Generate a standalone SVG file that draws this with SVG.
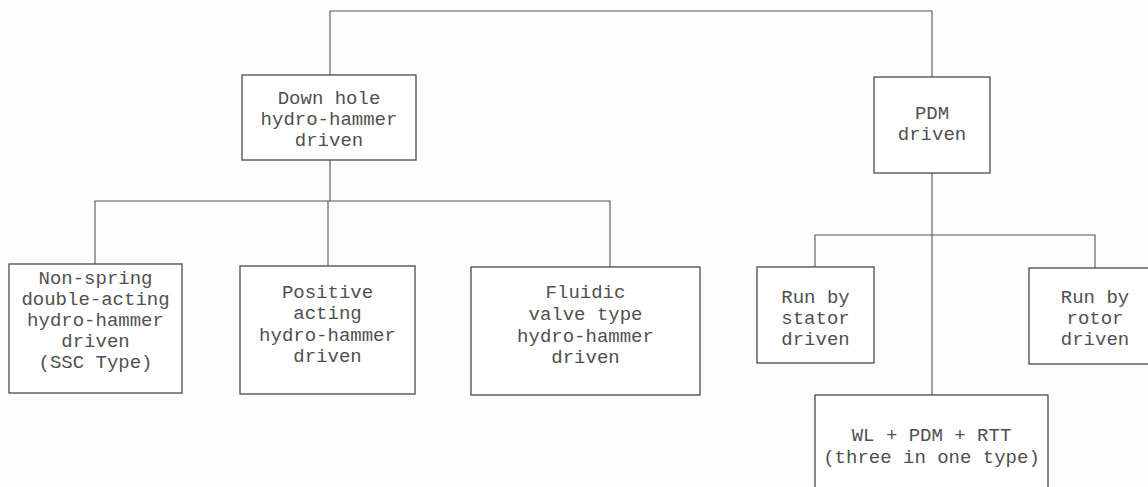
<svg xmlns="http://www.w3.org/2000/svg" width="1148" height="487" viewBox="0 0 1148 487">
<style>
.box{fill:#fff;stroke:#4a4a4a;stroke-width:1.3}
.ln{fill:none;stroke:#555;stroke-width:1.1}
text{font-family:"Liberation Mono","Courier New",monospace;font-size:19px;fill:#505050;text-anchor:middle}
</style>
<rect width="1148" height="487" fill="#fdfdfd"/>
<g id="connectors">
<path class="ln" d="M330,75 V11 H932 V77"/>
<path class="ln" d="M330,160 V201 M95,264 V201 H610 V267 M328,201 V266"/>
<path class="ln" d="M932,173 V395 M815,267 V235 H1095 V268"/>
</g>
<g id="n-downhole">
<rect class="box" x="242" y="75" width="174" height="85"/>
<text x="329" y="104">Down hole</text>
<text x="329" y="125">hydro-hammer</text>
<text x="329" y="146">driven</text>
</g>
<g id="n-pdm">
<rect class="box" x="874" y="77" width="116" height="96"/>
<text x="932" y="119">PDM</text>
<text x="932" y="140">driven</text>
</g>
<g id="n-nonspring">
<rect class="box" x="9" y="264" width="173" height="129"/>
<text x="95.5" y="284">Non-spring</text>
<text x="95.5" y="305">double-acting</text>
<text x="95.5" y="326">hydro-hammer</text>
<text x="95.5" y="347">driven</text>
<text x="95.5" y="368">(SSC Type)</text>
</g>
<g id="n-positive">
<rect class="box" x="240" y="266" width="175" height="128"/>
<text x="327.5" y="298">Positive</text>
<text x="327.5" y="319">acting</text>
<text x="327.5" y="341">hydro-hammer</text>
<text x="327.5" y="362">driven</text>
</g>
<g id="n-fluidic">
<rect class="box" x="471" y="267" width="229" height="128"/>
<text x="585.5" y="298">Fluidic</text>
<text x="585.5" y="320">valve type</text>
<text x="585.5" y="342">hydro-hammer</text>
<text x="585.5" y="363">driven</text>
</g>
<g id="n-stator">
<rect class="box" x="757" y="267" width="117" height="96"/>
<text x="815.5" y="303">Run by</text>
<text x="815.5" y="324">stator</text>
<text x="815.5" y="345">driven</text>
</g>
<g id="n-rotor">
<rect class="box" x="1029" y="268" width="132" height="96"/>
<text x="1095" y="303">Run by</text>
<text x="1095" y="324">rotor</text>
<text x="1095" y="345">driven</text>
</g>
<g id="n-wl">
<rect class="box" x="815" y="395" width="233" height="100"/>
<text x="931.5" y="441">WL + PDM + RTT</text>
<text x="931.5" y="463">(three in one type)</text>
</g>
</svg>
